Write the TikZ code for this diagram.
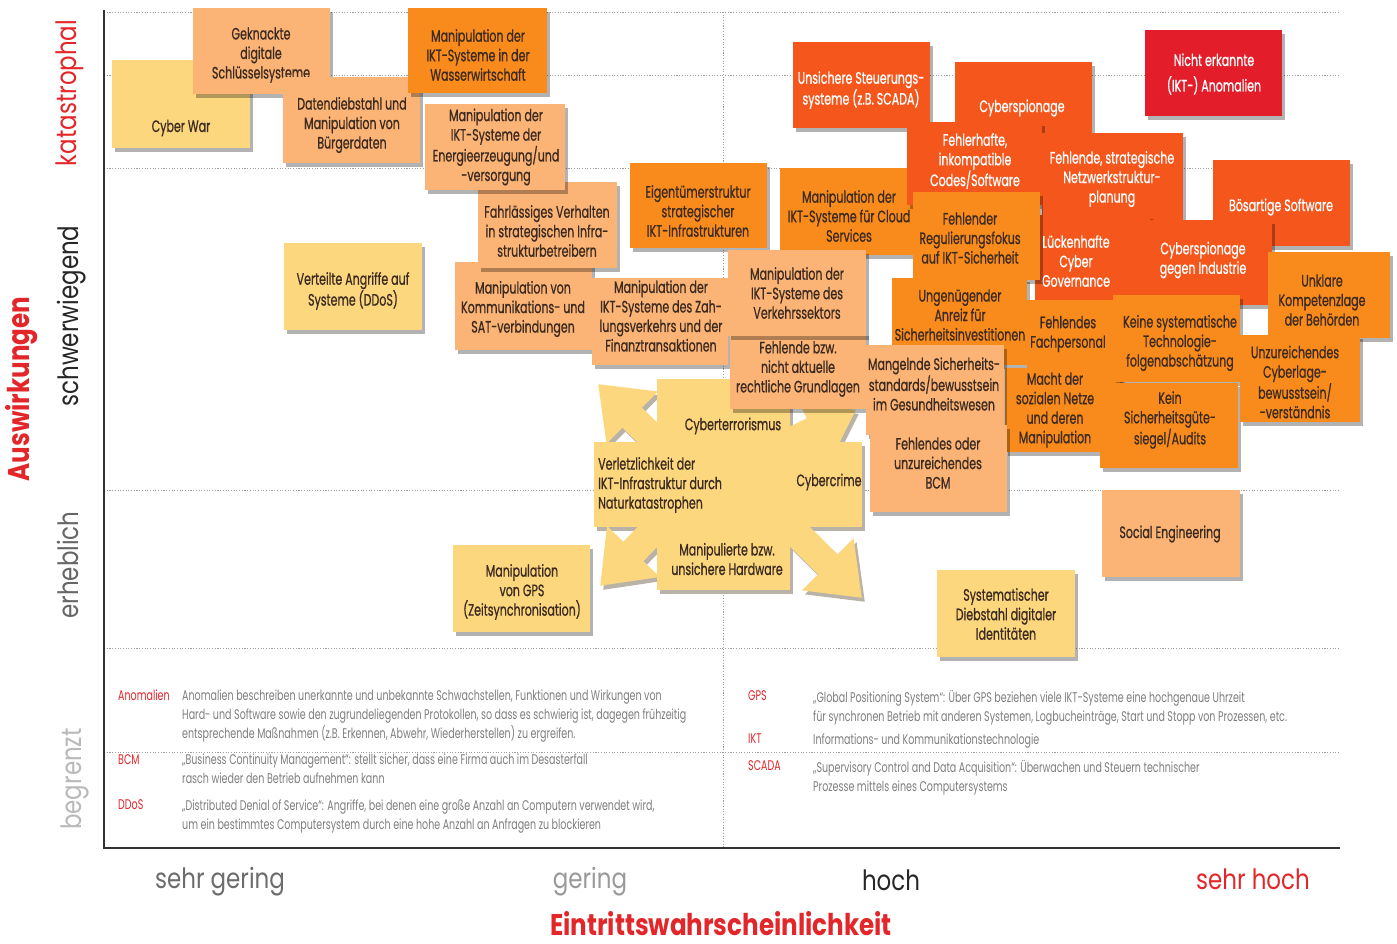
\documentclass[tikz,border=0pt]{standalone}
\usepackage{fontspec}
\setmainfont{Poppins}[FakeStretch=0.68]
\newfontfamily\boxfont{Poppins}[FakeStretch=0.67, FakeBold=0.7]
\newfontfamily\axfont{Poppins}[FakeStretch=0.82]
\usetikzlibrary{fit,shadows,arrows.meta}
\definecolor{cY}{HTML}{FDD77E}
\definecolor{cL}{HTML}{FBB475}
\definecolor{cM}{HTML}{F98B1C}
\definecolor{cR}{HTML}{F5561C}
\definecolor{cX}{HTML}{E31E2A}
\definecolor{cT}{HTML}{3B2A20}
\definecolor{cRed}{HTML}{E3262A}
\definecolor{cLeg}{HTML}{7E7E7E}
\definecolor{cSh}{HTML}{B8B2A8}
\tikzset{
  box/.style={inner sep=0pt, outer sep=0pt, drop shadow={shadow xshift=3pt, shadow yshift=-4pt, opacity=0.3, fill=black}},
  bY/.style={box, fill=cY},
  bL/.style={box, fill=cL},
  bM/.style={box, fill=cM},
  bR/.style={box, fill=cR},
  bX/.style={box, fill=cX},
  txt/.style={align=center, inner sep=0pt, text=cT, font=\boxfont\fontsize{16.5}{19.5}\selectfont},
  wt/.style={text=white},
  gridl/.style={gray!75, line width=0.9pt, dash pattern=on 1.1pt off 1.6pt},
  axisl/.style={gray!40!black, line width=1.8pt},
  axl/.style={inner sep=0pt, font=\axfont\fontsize{28}{30}\selectfont},
  axt/.style={inner sep=0pt, text=cRed, font=\axfont\bfseries\fontsize{30}{32}\selectfont},
  legk/.style={inner sep=0pt, anchor=north west, text=cRed, font=\fontsize{14}{19}\selectfont},
  legd/.style={inner sep=0pt, anchor=north west, align=left, text=cLeg, font=\fontsize{14}{19}\selectfont},
}
\newcommand\bx[6]{\node[#2,fit={#3}] (#1) {};\node[txt,#5] (#1-t) at #4 {#6};}
\newcommand\starshape[1]{%
  \fill[#1] (657,379) rectangle (790,590);
  \fill[#1] (594,442) rectangle (862,527);
  \draw[#1, line width=28pt, -{Triangle[width=70pt,length=48pt]}] (657,442) -- (598,384);
  \draw[#1, line width=28pt, -{Triangle[width=70pt,length=48pt]}] (790,442) -- (856,410);
  \draw[#1, line width=28pt, -{Triangle[width=70pt,length=48pt]}] (657,527) -- (600,586);
  \draw[#1, line width=28pt, -{Triangle[width=70pt,length=48pt]}] (790,527) -- (862,598);
}
\begin{document}
\begin{tikzpicture}[x=1pt,y=-1pt]
\useasboundingbox (0,0) rectangle (1397,944);
\fill[white] (0,0) rectangle (1397,944);
% grid
\foreach \yy in {12,75,168,490,648,752}{\draw[gridl] (104,\yy) -- (1340,\yy);}
\draw[gridl] (723,12) -- (723,848);
\draw[axisl] (104,10) -- (104,848) -- (1340,848);
% axis labels
\node[axl, text=gray!85!black] (xl1) at (220,882) {sehr gering};
\node[axl, text=gray!80] (xl2) at (590,882) {gering};
\node[axl, text=black!85] (xl3) at (891,880) {hoch};
\node[axl, text=cRed] (xl4) at (1253,879) {sehr hoch};
\node[axt] (xt) at (721,924) {Eintrittswahrscheinlichkeit};
\node[axl, rotate=90, text=cRed] (yl1) at (70,93) {katastrophal};
\node[axl, rotate=90, text=black!85] (yl2) at (72,316) {schwerwiegend};
\node[axl, rotate=90, text=gray!80!black] (yl3) at (68,565) {erheblich};
\node[axl, rotate=90, text=gray!55] (yl4) at (75,779) {begrenzt};
\node[axt, rotate=90] (yt) at (22,389) {Auswirkungen};
% boxes
\bx{cw}{bY}{(112,60)(250,148)}{(181,128)}{}{Cyber War}
\bx{gk}{bL}{(193,8)(330,94)}{(261,55)}{}{Geknackte\\digitale\\Schlüsselsysteme}
\bx{dd}{bL}{(283,77)(420,163)}{(352,125)}{}{Datendiebstahl und\\Manipulation von\\Bürgerdaten}
\bx{ww}{bM}{(408,8)(547,93)}{(478,55)}{}{Manipulation der\\IKT-Systeme in der\\Wasserwirtschaft}
\bx{va}{bY}{(284,243)(422,330)}{(353,291)}{}{Verteilte Angriffe auf\\Systeme (DDoS)}
\bx{ko}{bL}{(455,262)(592,350)}{(523,309)}{}{Manipulation von\\Kommunikations- und\\SAT-verbindungen}
\bx{fv}{bL}{(478,182)(617,268)}{(547,231)}{}{Fahrlässiges Verhalten\\in strategischen Infra-\\strukturbetreibern}
\bx{en}{bL}{(425,104)(565,190)}{(496,147)}{}{Manipulation der\\IKT-Systeme der\\Energieerzeugung/und\\-versorgung}
\bx{zv}{bL}{(592,278)(728,365)}{(661,316)}{}{Manipulation der\\IKT-Systeme des Zah-\\lungsverkehrs und der\\Finanztransaktionen}
\bx{ei}{bM}{(630,163)(767,248)}{(698,211)}{}{Eigentümerstruktur\\strategischer\\IKT-Infrastrukturen}
% starburst
\begin{scope}[transform canvas={xshift=3pt,yshift=-4pt}]
\starshape{cSh}
\end{scope}
\starshape{cY}
\node[txt] (sb1) at (733,426) {Cyberterrorismus};
\node[txt, align=left, anchor=west] (sb2) at (598,485) {Verletzlichkeit der\\IKT-Infrastruktur durch\\Naturkatastrophen};
\node[txt] (sb3) at (829,482) {Cybercrime};
\node[txt] (sb4) at (727,559) {Manipulierte bzw.\\unsichere Hardware};
\bx{fb}{bL}{(730,332)(866,409)}{(798,369)}{}{Fehlende bzw.\\nicht aktuelle\\rechtliche Grundlagen}
\bx{cl}{bM}{(780,168)(917,255)}{(849,216)}{}{Manipulation der\\IKT-Systeme für Cloud\\Services}
\bx{vk}{bL}{(728,250)(866,336)}{(797,293)}{}{Manipulation der\\IKT-Systeme des\\Verkehrssektors}
\bx{us}{bR}{(793,42)(930,128)}{(861,90)}{wt}{Unsichere Steuerungs-\\systeme (z.B. SCADA)}
\bx{cs}{bR}{(955,62)(1092,160)}{(1022,108)}{wt}{Cyberspionage}
\bx{fh}{bR}{(907,122)(1042,205)}{(975,161)}{wt}{Fehlerhafte,\\inkompatible\\Codes/Software}
\bx{fs}{bR}{(1042,133)(1183,222)}{(1112,179)}{wt}{Fehlende, strategische\\Netzwerkstruktur-\\planung}
\bx{ne}{bX}{(1145,30)(1282,116)}{(1214,74)}{wt}{Nicht erkannte\\[6pt](IKT-) Anomalien}
\bx{bs}{bR}{(1213,160)(1350,246)}{(1281,207)}{wt}{Bösartige Software}
\bx{lg}{bR}{(1035,215)(1150,305)}{(1076,261)}{wt}{Lückenhafte\\Cyber\\Governance}
\bx{fr}{bM}{(913,192)(1040,280)}{(970,238)}{}{Fehlender\\Regulierungsfokus\\auf IKT-Sicherheit}
\bx{ug}{bM}{(892,278)(1027,365)}{(960,315)}{}{Ungenügender\\Anreiz für\\Sicherheitsinvestitionen}
\bx{ci}{bR}{(1148,220)(1272,305)}{(1203,260)}{wt}{Cyberspionage\\gegen Industrie}
\bx{fp}{bM}{(1027,300)(1122,385)}{(1068,334)}{}{Fehlendes\\Fachpersonal}
\bx{mn}{bM}{(1005,368)(1120,452)}{(1055,410)}{}{Macht der\\sozialen Netze\\und deren\\Manipulation}
\bx{ks}{bM}{(1113,295)(1240,382)}{(1180,343)}{}{Keine systematische\\Technologie-\\folgenabschätzung}
\bx{kg}{bM}{(1100,383)(1238,468)}{(1170,420)}{}{Kein\\Sicherheitsgüte-\\siegel/Audits}
\bx{uk}{bM}{(1268,252)(1390,338)}{(1322,300)}{}{Unklare\\Kompetenzlage\\der Behörden}
\bx{uz}{bM}{(1240,335)(1360,422)}{(1295,382)}{}{Unzureichendes\\Cyberlage-\\bewusstsein/\\-verständnis}
\bx{mg}{bL}{(866,345)(1004,435)}{(934,384)}{}{Mangelnde Sicherheits-\\standards/bewusstsein\\im Gesundheitswesen}
\bx{bc}{bL}{(870,425)(1007,512)}{(938,463)}{}{Fehlendes oder\\unzureichendes\\BCM}
\bx{se}{bL}{(1102,490)(1240,577)}{(1170,534)}{}{Social Engineering}
\bx{sd}{bY}{(937,570)(1075,657)}{(1006,614)}{}{Systematischer\\Diebstahl digitaler\\Identitäten}
\bx{gp}{bY}{(453,545)(590,632)}{(522,592)}{}{Manipulation\\von GPS\\(Zeitsynchronisation)}
% legend
\node[legk] (k1) at (118,690) {Anomalien};
\node[legd] (d1) at (182,690) {Anomalien beschreiben unerkannte und unbekannte Schwachstellen, Funktionen und Wirkungen von\\Hard- und Software sowie den zugrundeliegenden Protokollen, so dass es schwierig ist, dagegen frühzeitig\\entsprechende Maßnahmen (z.B. Erkennen, Abwehr, Wiederherstellen) zu ergreifen.};
\node[legk] (k2) at (118,754) {BCM};
\node[legd] (d2) at (182,754) {„Business Continuity Management“: stellt sicher, dass eine Firma auch im Desasterfall\\rasch wieder den Betrieb aufnehmen kann};
\node[legk] (k3) at (118,799) {DDoS};
\node[legd] (d3) at (182,799) {„Distributed Denial of Service“: Angriffe, bei denen eine große Anzahl an Computern verwendet wird,\\um ein bestimmtes Computersystem durch eine hohe Anzahl an Anfragen zu blockieren};
\node[legk] (k4) at (748,690) {GPS};
\node[legd] (d4) at (813,690) {„Global Positioning System“: Über GPS beziehen viele IKT-Systeme eine hochgenaue Uhrzeit\\für synchronen Betrieb mit anderen Systemen, Logbucheinträge, Start und Stopp von Prozessen, etc.};
\node[legk] (k5) at (748,734) {IKT};
\node[legd] (d5) at (813,734) {Informations- und Kommunikationstechnologie};
\node[legk] (k6) at (748,760) {SCADA};
\node[legd] (d6) at (813,760) {„Supervisory Control and Data Acquisition“: Überwachen und Steuern technischer\\Prozesse mittels eines Computersystems};
\end{tikzpicture}
\end{document}
